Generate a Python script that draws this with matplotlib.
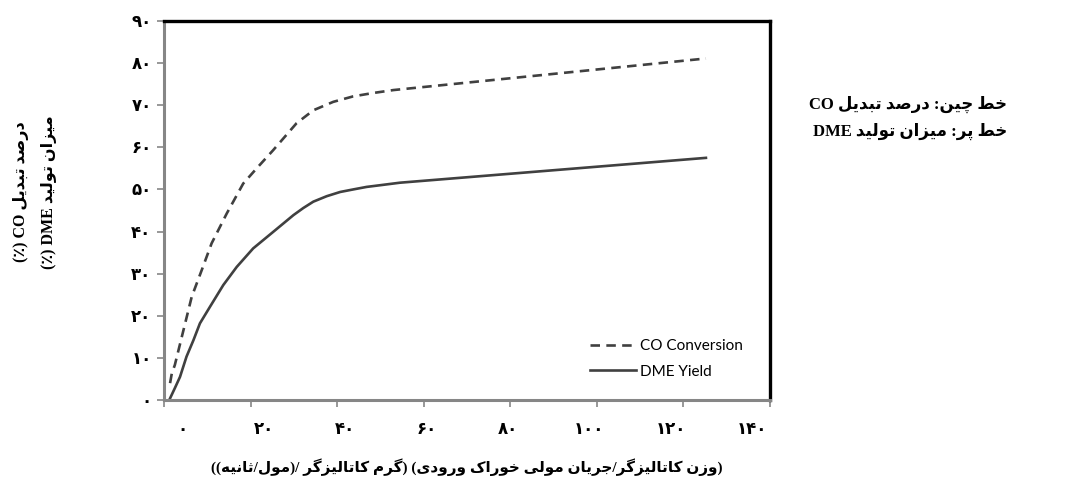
import re
import matplotlib.pyplot as plt

# contextual forms (isolated, final, initial, medial) for the Persian letters used
FORMS = {
    'ا': ('\uFE8D', '\uFE8E'), 'د': ('\uFEA9', '\uFEAA'), 'ر': ('\uFEAD', '\uFEAE'),
    'ز': ('\uFEAF', '\uFEB0'), 'و': ('\uFEED', '\uFEEE'),
    'ب': ('\uFE8F', '\uFE90', '\uFE91', '\uFE92'), 'پ': ('\uFB56', '\uFB57', '\uFB58', '\uFB59'),
    'ت': ('\uFE95', '\uFE96', '\uFE97', '\uFE98'), 'ث': ('\uFE99', '\uFE9A', '\uFE9B', '\uFE9C'),
    'ج': ('\uFE9D', '\uFE9E', '\uFE9F', '\uFEA0'), 'چ': ('\uFB7A', '\uFB7B', '\uFB7C', '\uFB7D'),
    'خ': ('\uFEA5', '\uFEA6', '\uFEA7', '\uFEA8'), 'ص': ('\uFEB9', '\uFEBA', '\uFEBB', '\uFEBC'),
    'ط': ('\uFEC1', '\uFEC2', '\uFEC3', '\uFEC4'), 'ک': ('\uFB8E', '\uFB8F', '\uFB90', '\uFB91'),
    'گ': ('\uFB92', '\uFB93', '\uFB94', '\uFB95'), 'ل': ('\uFEDD', '\uFEDE', '\uFEDF', '\uFEE0'),
    'م': ('\uFEE1', '\uFEE2', '\uFEE3', '\uFEE4'), 'ن': ('\uFEE5', '\uFEE6', '\uFEE7', '\uFEE8'),
    'ه': ('\uFEE9', '\uFEEA', '\uFEEB', '\uFEEC'), 'ی': ('\uFBFC', '\uFBFD', '\uFBFE', '\uFBFF'),
}


def fa(text):
    """shape Persian letters and put each line in visual (RTL) order"""
    if '\n' in text:
        return '\n'.join(fa(t) for t in text.split('\n'))
    text = text.replace('\u064A', 'ی').replace('\u0643', 'ک')
    out = []
    for i, c in enumerate(text):
        if c not in FORMS:
            out.append(c)
            continue
        prev = text[i - 1] if i > 0 else ''
        nxt = text[i + 1] if i + 1 < len(text) else ''
        jp = prev in FORMS and len(FORMS[prev]) == 4
        jn = len(FORMS[c]) == 4 and nxt in FORMS
        f = FORMS[c]
        if jp and jn:
            out.append(f[3])
        elif jp:
            out.append(f[1])
        elif jn:
            out.append(f[2])
        else:
            out.append(f[0])
    tokens = re.findall(r'[A-Za-z0-9\u06F0-\u06F9]+|.', ''.join(out))
    mirror = {'(': ')', ')': '('}
    return ''.join(mirror.get(t, t) for t in reversed(tokens))


# data
x_co = [1.4, 1.8, 2.5, 4.5, 6.4, 8.7, 11.0, 14.5, 18.3, 21.4, 25.2, 30.6, 34.5, 39.1,
        43.7, 48.3, 53.0, 125.2]
co_conversion = [4.0, 6.3, 8.3, 16.6, 24.5, 30.8, 37.2, 44.3, 51.4, 55.0, 59.3, 65.7, 68.8,
                 70.8, 72.1, 72.9, 73.6, 81.1]

x_dme = [1.4, 2.5, 3.7, 5.2, 6.8, 8.3, 10.6, 13.7, 16.8, 20.6, 25.2, 29.9, 32.2, 34.5,
         37.6, 40.7, 43.7, 46.8, 49.9, 54.5, 125.2]
dme_yield = [0.4, 2.8, 5.5, 10.3, 14.2, 18.2, 22.1, 27.3, 31.6, 36.0, 39.9, 43.9, 45.6,
             47.1, 48.4, 49.4, 50.0, 50.6, 51.0, 51.6, 57.5]

x_ticks = [0, 20, 40, 60, 80, 100, 120, 140]
x_tick_labels = ['۰', '۲۰', '۴۰', '۶۰', '۸۰', '۱۰۰', '۱۲۰', '۱۴۰']
y_ticks = [0, 10, 20, 30, 40, 50, 60, 70, 80, 90]
y_tick_labels = ['۰', '۱۰', '۲۰', '۳۰', '۴۰', '۵۰', '۶۰', '۷۰', '۸۰', '۹۰']

y_label = 'درصد تبدیل CO (٪)\nمیزان تولید DME (٪)'
x_label = '(وزن کاتالیزگر/جریان مولی خوراک ورودی) (گرم کاتالیزگر /(مول/ثانیه))'
note_lines = ['خط چین: درصد تبدیل CO', 'خط پر: میزان تولید DME']

FA_FONT = ['Liberation Serif', 'DejaVu Sans']
line_color = '#404040'

fig = plt.figure(figsize=(10.71, 4.82), dpi=100)
ax = fig.add_axes([164 / 1071, 82 / 482, 606 / 1071, 379 / 482])

ax.plot(x_co, co_conversion, color=line_color, lw=1.9, ls=(0, (3.6, 2.4)),
        solid_joinstyle='round', dash_joinstyle='round', label='CO Conversion')
ax.plot(x_dme, dme_yield, color=line_color, lw=1.9, solid_joinstyle='round',
        label='DME Yield')

ax.set_xlim(0, 140)
ax.set_ylim(0, 90)

# tick marks on the true values, labels drawn a little shifted like the original
ax.set_xticks(x_ticks)
ax.set_xticklabels([])
ax.set_xticks([4.2 + 0.94 * v for v in x_ticks], minor=True)
ax.set_xticklabels(x_tick_labels, minor=True, family=FA_FONT, weight='bold', fontsize=12)
ax.tick_params(axis='x', which='minor', length=0, pad=16)
ax.set_yticks(y_ticks)
ax.set_yticklabels(y_tick_labels, family=FA_FONT, weight='bold', fontsize=12)
ax.tick_params(which='major', length=5, width=1.2, color='#868686')
ax.tick_params(axis='y', pad=4)

for side in ['left', 'bottom']:
    ax.spines[side].set_color('#868686')
    ax.spines[side].set_linewidth(2.2)
for side in ['top', 'right']:
    ax.spines[side].set_color('black')
    ax.spines[side].set_linewidth(2.4)

leg = ax.legend(loc='lower left', bbox_to_anchor=(0.68, 0.02), frameon=False,
                prop={'family': 'Lato', 'size': 11}, handlelength=3.0,
                handletextpad=0.3, labelspacing=0.75)

fig.text(35 / 1071, 1 - 192 / 482, fa(y_label), rotation=90, ha='center', va='center',
         multialignment='center', family=FA_FONT, weight='bold', fontsize=11.5,
         linespacing=2.0)
fig.text(467 / 1071, 1 - 467 / 482, fa(x_label), ha='center', va='center',
         family=FA_FONT, weight='bold', fontsize=11)
fig.text(1 - 64 / 1071, 1 - 118 / 482, fa('\n'.join(note_lines)), ha='right',
         va='center', multialignment='right', family=FA_FONT, weight='bold',
         fontsize=12, linespacing=1.8)

fig.savefig('out.png', dpi=100)
